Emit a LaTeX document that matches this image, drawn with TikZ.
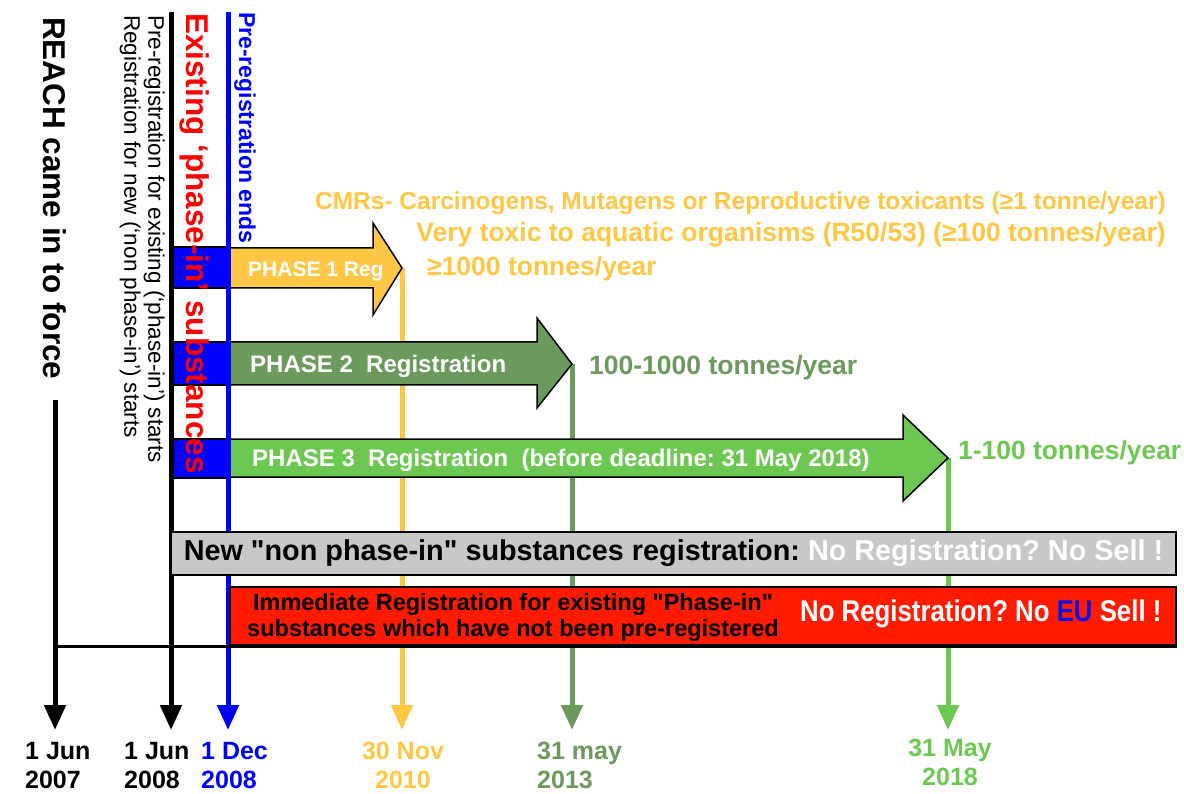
\documentclass[tikz,border=0pt]{standalone}
\usepackage{fontspec}
\setmainfont[Ligatures=TeXOff]{Liberation Sans}
\newfontfamily\narrowfont[FakeStretch=0.86,Ligatures=TeXOff]{Liberation Sans}
\usepackage{tikz}
\usetikzlibrary{arrows.meta}
\frenchspacing

\definecolor{regyellow}{HTML}{FFC744}
\definecolor{regdkgreen}{HTML}{6B9A5C}
\definecolor{reglgreen}{HTML}{6CC851}
\definecolor{regred}{HTML}{FF1A00}
\definecolor{reggrey}{HTML}{C8C8C8}
\definecolor{eublue}{HTML}{1010E0}

\newcommand{\fsz}[1]{\fontsize{#1}{#1}\selectfont}

\tikzset{
    tline/.style={line width=5pt, -{Triangle[width=21pt,length=25pt]}},
    phasebox/.style={draw=black, line width=1.5pt},
    phasetext/.style={text=white, font=\bfseries\fsz{24}, anchor=base west, inner sep=0pt},
    vlabel/.style={rotate=-90, anchor=west, inner sep=0pt},
    datelbl/.style={font=\bfseries\fontsize{25}{29}\selectfont, inner sep=0pt},
    bar/.style={draw=black, line width=2pt, inner sep=0pt},
}

\begin{document}
\begin{tikzpicture}[x=1pt,y=-1pt]
    \useasboundingbox (0,0) rectangle (1184,794);

    % Timeline start points and deadlines
    \coordinate (reachtop) at (55,400);
    \coordinate (prestart) at (171,12);
    \coordinate (preend) at (228,12);
    \coordinate (tip1) at (402,268);
    \coordinate (tip2) at (572,364);
    \coordinate (tip3) at (948,458);
    \foreach \n/\x in {reach/55, start/171, end/228, one/402, two/572, three/948}
        \coordinate (\n bot) at (\x,730);

    % Deadline lines (the bars are drawn over them)
    \draw[tline, regyellow] (tip1) -- (onebot);
    \draw[tline, regdkgreen] (tip2) -- (twobot);
    \draw[tline, reglgreen] (tip3) -- (threebot);

    % Phase arrows
    \draw[phasebox, fill=regyellow] (228,248) -- (373,248) -- (373,223) -- (tip1)
        -- (373,315) -- (373,288) -- (228,288) -- cycle;
    \draw[phasebox, fill=regdkgreen] (228,342) -- (537,342) -- (537,318) -- (tip2)
        -- (537,408) -- (537,385) -- (228,385) -- cycle;
    \draw[phasebox, fill=reglgreen] (228,439) -- (903,439) -- (903,415) -- (tip3)
        -- (903,501) -- (903,477) -- (228,477) -- cycle;
    \node[phasetext, font=\bfseries\fsz{21}] (ph1) at (248,277) {PHASE 1 Reg};
    \node[phasetext] (ph2) at (250,373) {PHASE 2\ \ Registration};
    \node[phasetext] (ph3) at (252,466) {PHASE 3\ \ Registration\ \ (before deadline: 31 May 2018)};

    % Blue boxes of the existing substances
    \foreach \yt/\yb in {247/288, 342/385, 439/478}
        \draw[phasebox, fill=blue] (171,\yt) rectangle (228,\yb);

    % Main timelines
    \draw[tline] (reachtop) -- (reachbot);
    \draw[tline] (prestart) -- (startbot);
    \draw[tline, blue] (preend) -- (endbot);

    % Vertical labels
    \node[vlabel, font=\bfseries\fsz{31.5}] (reach) at (55,17) {REACH came in to force};
    \node[vlabel, anchor=north west, align=left, font=\fontsize{22.5}{24}\selectfont] (prereg)
        at (165,15) {Pre-registration for existing (‘phase-in’) starts\\Registration for new (‘non phase-in’) starts};
    \node[vlabel, text=red, font=\bfseries\fsz{31.5}] (existing) at (195,13) {Existing ‘phase-in’ substances};
    \node[vlabel, text=blue, font=\bfseries\fsz{23}] (preends) at (245,12) {Pre-registration ends};

    % Tonnage labels
    \node[anchor=base east, inner sep=0pt, text=regyellow, font=\bfseries\fsz{24.5}] (cmr)
        at (1166,210) {CMRs- Carcinogens, Mutagens or Reproductive toxicants (≥1 tonne/year)};
    \node[anchor=base east, inner sep=0pt, text=regyellow, font=\bfseries\fsz{26.5}] (aquatic)
        at (1166,242) {Very toxic to aquatic organisms (R50/53) (≥100 tonnes/year)};
    \node[anchor=base west, inner sep=0pt, text=regyellow, font=\bfseries\fsz{26.5}] (t1000)
        at (427,276) {≥1000 tonnes/year};
    \node[anchor=base west, inner sep=0pt, text=regdkgreen, font=\bfseries\fsz{26.5}] (t100)
        at (589,374) {100-1000 tonnes/year};
    \node[anchor=base west, inner sep=0pt, text=reglgreen, font=\bfseries\fsz{26.4}] (t1)
        at (958,459) {1-100 tonnes/year};

    % Registration bars
    \node[bar, fill=reggrey, minimum width=1005pt, minimum height=43pt, font=\bfseries\fsz{28.8}] (newbar)
        at (673.5,553.5) {New "non phase-in" substances registration: \textcolor{white}{No Registration? No Sell !}};
    \node[bar, fill=regred, minimum width=946pt, minimum height=58pt] (redbar) at (703,616) {};
    \node[inner sep=0pt, align=center, font=\bfseries\fontsize{23.5}{26}\selectfont] (immediate)
        at (513,617) {Immediate Registration for existing "Phase-in"\\substances which have not been pre-registered};
    \node[anchor=base west, inner sep=0pt, text=white, font=\narrowfont\bfseries\fsz{30}] (nosell)
        at (800,621) {No Registration? No \textcolor{eublue}{EU} Sell !};
    \draw[line width=3pt] (reachbot |- redbar.south) -- (redbar.south east);

    % Dates
    \node[datelbl, anchor=north west, align=left] (d2007) at (25,742) {1 Jun\\2007};
    \node[datelbl, anchor=north west, align=left] (d2008) at (124,742) {1 Jun\\2008};
    \node[datelbl, anchor=north west, align=left, text=blue] (dec2008) at (201,742) {1 Dec\\2008};
    \node[datelbl, anchor=north, align=center, text=regyellow] (d2010) at (403,742) {30 Nov\\2010};
    \node[datelbl, anchor=north west, align=left, text=regdkgreen] (d2013) at (537,742) {31 may\\ 2013};
    \node[datelbl, anchor=north, align=center, text=reglgreen] (d2018) at (950,739) {31 May\\2018};
\end{tikzpicture}
\end{document}
